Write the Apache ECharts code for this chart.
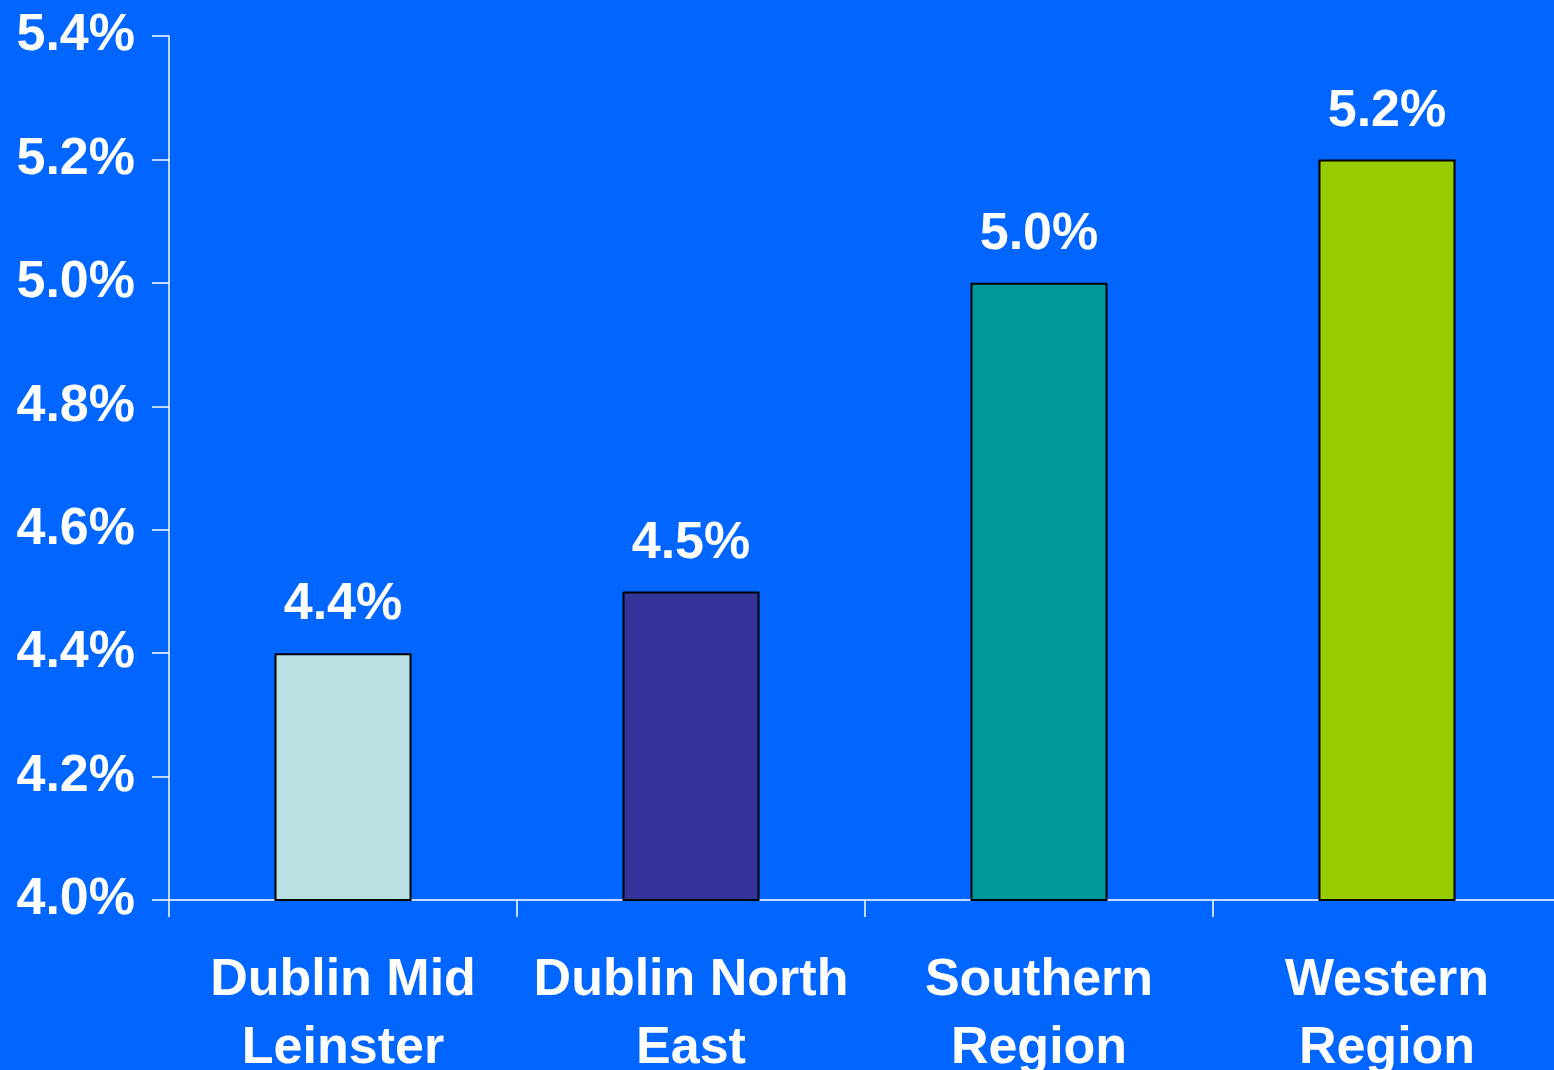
<!DOCTYPE html>
<html><head><meta charset="utf-8">
<script src="https://cdn.jsdelivr.net/npm/echarts@6/dist/echarts.min.js"></script>
<style>html,body{margin:0;padding:0;background:#0066FF;}#c{width:1554px;height:1070px;}</style>
</head><body><div id="c"></div>
<script>
const categories = ["Dublin Mid\nLeinster", "Dublin North\nEast", "Southern\nRegion", "Western\nRegion"];
const values = [4.4, 4.5, 5.0, 5.2];
const barColors = ["#BBE0E3", "#333399", "#009999", "#99CC00"];
const yMin = 4.0, yMax = 5.4, yStep = 0.2;

const chart = echarts.init(document.getElementById('c'), null, {renderer: 'canvas'});
const font = '"Liberation Sans", Arial, sans-serif';
chart.setOption({
  backgroundColor: '#0066FF',
  animation: false,
  grid: {left: 169, top: 36, width: 1392, height: 864, containLabel: false, outerBoundsMode: 'none'},
  xAxis: {
    type: 'category',
    data: categories,
    axisLine: {lineStyle: {color: '#ffffff', width: 1.5}},
    axisTick: {show: true, alignWithLabel: false, length: 17, lineStyle: {color: '#ffffff', width: 1.5}},
    axisLabel: {color: '#ffffff', fontFamily: font, fontWeight: 'bold', fontSize: 52, lineHeight: 68, margin: 47, interval: 0}
  },
  yAxis: {
    type: 'value', min: yMin, max: yMax, interval: yStep,
    splitLine: {show: false},
    axisLine: {show: true, lineStyle: {color: '#ffffff', width: 1.5}},
    axisTick: {show: true, length: 17, lineStyle: {color: '#ffffff', width: 1.5}},
    axisLabel: {color: '#ffffff', fontFamily: font, fontWeight: 'bold', fontSize: 52, margin: 34,
      formatter: v => v.toFixed(1) + '%'}
  },
  series: [{
    type: 'bar',
    barWidth: 137,
    data: values.map((v, i) => ({value: v, itemStyle: {color: barColors[i]}})),
    itemStyle: {borderColor: '#000000', borderWidth: 2},
    label: {show: true, position: 'top', distance: 22, color: '#ffffff', fontFamily: font, fontWeight: 'bold', fontSize: 52,
      formatter: p => p.value.toFixed(1) + '%'}
  }]
});
</script></body></html>
